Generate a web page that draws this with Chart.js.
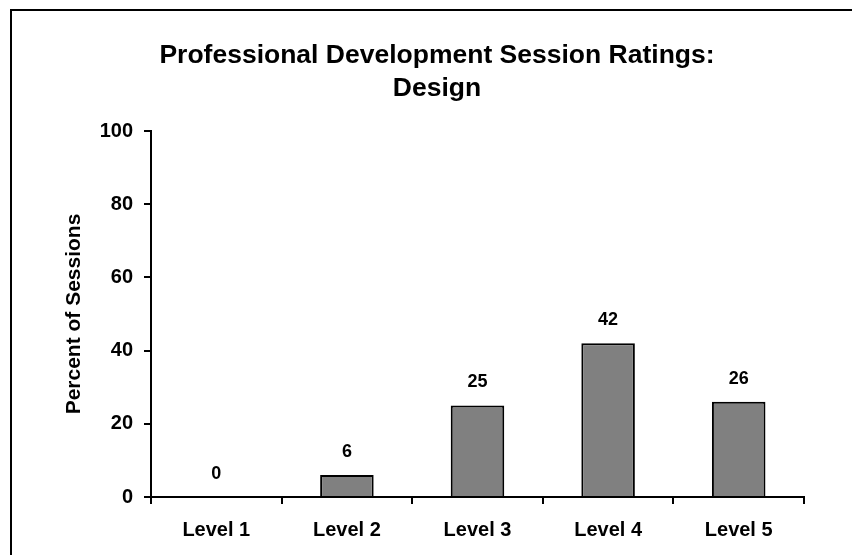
<!DOCTYPE html>
<html>
<head>
<meta charset="utf-8">
<script src="https://cdn.jsdelivr.net/npm/chart.js@4.4.1/dist/chart.umd.min.js"></script>
<style>
html,body{margin:0;padding:0;background:#fff;}
#wrap{width:852px;height:555px;position:relative;}
</style>
</head>
<body>
<div id="wrap"><canvas id="c" width="852" height="555"></canvas></div>
<script>
const categories = ["Level 1", "Level 2", "Level 3", "Level 4", "Level 5"];
const values = [0, 6, 25, 42, 26];
const yTicks = [0, 20, 40, 60, 80, 100];
const titleLines = ["Professional Development Session Ratings:", "Design"];
const yTitle = "Percent of Sessions";

const FONT = "'Liberation Sans', Arial, sans-serif";

const framePlugin = {
  id: 'frame',
  beforeDraw(chart) {
    const ctx = chart.ctx;
    ctx.save();
    ctx.fillStyle = '#fff';
    ctx.fillRect(0, 0, chart.width, chart.height);
    ctx.strokeStyle = '#000';
    ctx.lineWidth = 2;
    ctx.strokeRect(11, 10, 900, 600);
    // chart title
    ctx.font = "bold 26.5px " + FONT;
    ctx.fillStyle = '#000';
    ctx.textAlign = 'center';
    ctx.textBaseline = 'alphabetic';
    titleLines.forEach((line, i) => {
      ctx.fillText(line, 437, 63 + i * 33);
    });
    ctx.restore();
  }
};

const labelPlugin = {
  id: 'barLabels',
  afterDatasetsDraw(chart) {
    const ctx = chart.ctx;
    const meta = chart.getDatasetMeta(0);
    ctx.save();
    ctx.font = "bold 18px " + FONT;
    ctx.fillStyle = '#000';
    ctx.textAlign = 'center';
    ctx.textBaseline = 'middle';
    meta.data.forEach((bar, i) => {
      ctx.fillText(String(values[i]), bar.x, bar.y - 23);
    });
    ctx.restore();
  }
};

new Chart(document.getElementById('c'), {
  type: 'bar',
  data: {
    labels: categories,
    datasets: [{
      data: values,
      backgroundColor: '#808080',
      borderColor: '#000',
      borderWidth: 2,
      categoryPercentage: 1.0,
      barPercentage: 0.41
    }]
  },
  options: {
    responsive: false,
    animation: false,
    devicePixelRatio: 1,
    layout: { padding: { left: 50, right: 48, top: 131, bottom: 0 } },
    plugins: {
      legend: { display: false },
      tooltip: { enabled: false },
      title: { display: false }
    },
    scales: {
      x: {
        afterFit(scale) { scale.height = 58; },
        grid: { display: true, drawOnChartArea: false, drawTicks: true, tickLength: 7, color: '#000', lineWidth: 2, offset: true },
        border: { display: true, color: '#000', width: 2 },
        ticks: { color: '#000', font: { family: FONT, size: 20, weight: 'bold' }, padding: 14, maxRotation: 0 }
      },
      y: {
        min: 0, max: 100,
        afterFit(scale) { scale.width = 101; },
        afterBuildTicks(scale) { scale.ticks = yTicks.map(v => ({ value: v })); },
        grid: { display: true, drawOnChartArea: false, drawTicks: true, tickLength: 7, color: '#000', lineWidth: 2 },
        border: { display: true, color: '#000', width: 2 },
        ticks: { color: '#000', font: { family: FONT, size: 20, weight: 'bold' }, padding: 11 },
        title: {
          display: true,
          text: yTitle,
          color: '#000',
          font: { family: FONT, size: 21, weight: 'bold' },
          padding: { top: 12, bottom: 0 }
        }
      }
    }
  },
  plugins: [framePlugin, labelPlugin]
});
</script>
</body>
</html>
